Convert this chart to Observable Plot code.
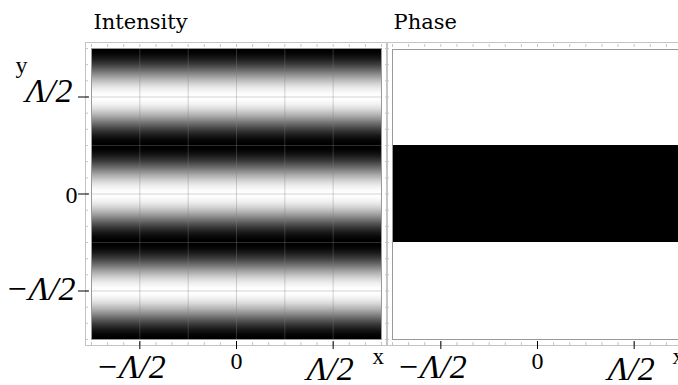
<!DOCTYPE html>
<html><head><meta charset="utf-8">
<script src="https://cdn.jsdelivr.net/npm/d3@7"></script>
<script src="https://cdn.jsdelivr.net/npm/@observablehq/plot@0.6"></script>
<style>
html,body{margin:0;padding:0;background:#fff;overflow:hidden;}
#wrap{position:relative;width:678px;height:385px;overflow:hidden;}
#wrap svg{position:absolute;top:0;}
</style></head><body><div id="wrap"></div>
<script>
// coordinates in units of Λ/2
const panelTitles = ["Intensity", "Phase"];
const domainX = [-1.5, 1.5];
const domainY = [-1.5, 1.5];
const tickValues = [-1, 0, 1];
const tickLabels = ["−Λ/2", "0", "Λ/2"];
const minorTicks = d3.range(-9, 10).map(k => k / 6);
const meshX = [-1, -0.5, 0, 0.5, 1];
const meshY = [-1, -0.5, 0, 0.5, 1];
const intensityPeriod = 1;            // bright fringes at y = 0, ±Λ/2
const phaseBand = [{y1: -0.5, y2: 0.5, phase: "π"}]; // phase π between ±Λ/4

const ticks = tickValues.map((v, i) => ({v, label: tickLabels[i]}));
const neg = ticks.filter(d => d.v < 0), zero = ticks.filter(d => d.v === 0), pos = ticks.filter(d => d.v > 0);

const serif = "Liberation Serif";
const titleFont = "DejaVu Serif";
const axisGray = "#c4c4c4";

function frameAxes(withYLabels) {
  const ax = {text: null, label: null};
  return [
    Plot.frame({inset: -6, stroke: axisGray}),
    Plot.axisX(minorTicks, {...ax, anchor: "bottom", tickSize: 3, dy: 3, stroke: axisGray}),
    Plot.axisX(minorTicks, {...ax, anchor: "top", tickSize: 3, dy: -2, stroke: axisGray}),
    Plot.axisY(minorTicks, {...ax, anchor: "left", tickSize: 3, dx: -3, stroke: axisGray}),
    Plot.axisY(minorTicks, {...ax, anchor: "right", tickSize: 3, dx: 3, stroke: axisGray}),
    Plot.axisX(tickValues, {...ax, anchor: "bottom", tickSize: 8, dy: 2, stroke: "black"}),
    ...(withYLabels ? [Plot.axisY(tickValues, {...ax, anchor: "left", tickSize: 11, dx: -2, stroke: "black"})] : []),
    // x tick labels
    Plot.text(neg, {x: "v", text: "label", frameAnchor: "bottom", dx: -9, dy: 38, lineAnchor: "bottom",
      fontFamily: serif, fontStyle: "italic", fontSize: 34}),
    Plot.text(zero, {x: "v", text: "label", frameAnchor: "bottom", dy: 29, lineAnchor: "bottom",
      fontFamily: serif, fontSize: 24}),
    Plot.text(pos, {x: "v", text: "label", frameAnchor: "bottom", dx: -3, dy: 40, lineAnchor: "bottom",
      fontFamily: serif, fontStyle: "italic", fontSize: 34}),
    ...(withYLabels ? [
      Plot.text(neg, {y: "v", text: "label", frameAnchor: "left", textAnchor: "end", dx: -16, dy: 9, lineAnchor: "bottom",
        fontFamily: serif, fontStyle: "italic", fontSize: 34}),
      Plot.text(zero, {y: "v", text: "label", frameAnchor: "left", textAnchor: "end", dx: -14, dy: 9, lineAnchor: "bottom",
        fontFamily: serif, fontSize: 24}),
      Plot.text(pos, {y: "v", text: "label", frameAnchor: "left", textAnchor: "end", dx: -19, dy: 5, lineAnchor: "bottom",
        fontFamily: serif, fontStyle: "italic", fontSize: 34})
    ] : [])
  ];
}

const left = Plot.plot({
  width: 390, height: 385,
  marginLeft: 91, marginRight: 9, marginTop: 48, marginBottom: 46,
  style: {background: "transparent", overflow: "visible"},
  x: {domain: domainX, range: [91, 381], axis: null, label: null},
  y: {domain: domainY, range: [339, 48], axis: null, label: null},
  color: {type: "linear", domain: [0, 1], range: ["black", "white"]},
  marks: [
    Plot.raster({x1: domainX[0], x2: domainX[1], y1: domainY[0], y2: domainY[1], pixelSize: 1,
      fill: (x, y) => Math.cos(Math.PI * y / intensityPeriod) ** 2}),
    Plot.ruleX(meshX, {stroke: "#808080", strokeOpacity: 0.35}),
    Plot.ruleY(meshY, {stroke: "#808080", strokeOpacity: 0.35}),
    Plot.frame({stroke: "#999"}),
    ...frameAxes(true),
    Plot.text([panelTitles[0]], {frameAnchor: "top-left", dx: 2, dy: -20, lineAnchor: "bottom", textAnchor: "start",
      fontFamily: titleFont, fontSize: 21}),
    Plot.text(["y"], {frameAnchor: "top-left", dx: -76, dy: 24, lineAnchor: "bottom", textAnchor: "start",
      fontFamily: serif, fontSize: 24}),
    Plot.text(["x"], {frameAnchor: "bottom-right", dx: -9, dy: 24, lineAnchor: "bottom", textAnchor: "start",
      fontFamily: serif, fontSize: 23})
  ]
});
left.style.left = "0px";

const right = Plot.plot({
  width: 298, height: 385,
  marginLeft: 12, marginRight: 0, marginTop: 48, marginBottom: 46,
  style: {background: "transparent", overflow: "visible"},
  x: {domain: domainX, range: [12, 302], axis: null, label: null},
  y: {domain: domainY, range: [339, 48], axis: null, label: null},
  marks: [
    Plot.rect(phaseBand, {x1: domainX[0], x2: domainX[1], y1: "y1", y2: "y2", fill: "black"}),
    Plot.frame({stroke: "#999", insetTop: 1, insetRight: -4}),
    ...frameAxes(false),
    Plot.text([panelTitles[1]], {frameAnchor: "top-left", dx: 1, dy: -20, lineAnchor: "bottom", textAnchor: "start",
      fontFamily: titleFont, fontSize: 21}),
    Plot.text(["x"], {frameAnchor: "bottom-left", dx: 280, dy: 24, lineAnchor: "bottom", textAnchor: "start",
      fontFamily: serif, fontSize: 23})
  ]
});
right.style.left = "380px";

document.getElementById("wrap").append(left, right);
</script></body></html>
